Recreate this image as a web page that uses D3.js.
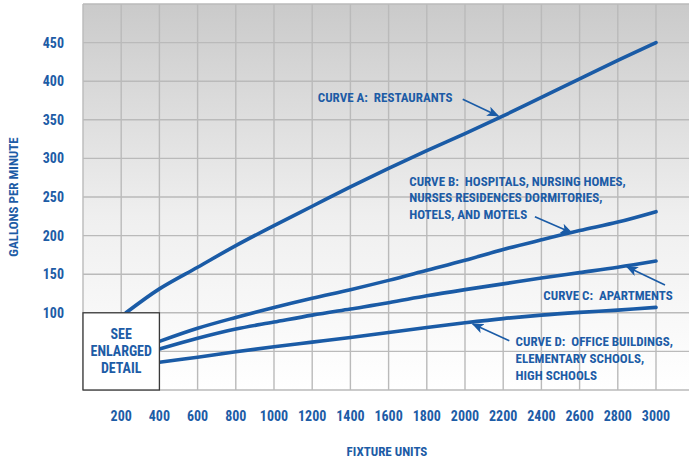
<!DOCTYPE html>
<html>
<head>
<meta charset="utf-8">
<script src="https://cdn.jsdelivr.net/npm/d3@7"></script>
<style>
  html, body { margin: 0; padding: 0; background: #ffffff; }
  svg { display: block; }
  text { font-family: "Liberation Sans Narrow", "Arial Narrow", "Roboto Condensed", "Liberation Sans", sans-serif; font-weight: bold; fill: #1d5ca6; white-space: pre; }
</style>
</head>
<body>
<svg id="chart" width="689" height="460"></svg>
<script>
// ---- data ----
const xTicks = [200, 400, 600, 800, 1000, 1200, 1400, 1600, 1800, 2000, 2200, 2400, 2600, 2800, 3000];
const yTicks = [100, 150, 200, 250, 300, 350, 400, 450];
const gridX = [0, 200, 400, 600, 800, 1000, 1200, 1400, 1600, 1800, 2000, 2200, 2400, 2600, 2800, 3000];
const gridY = [0, 50, 100, 150, 200, 250, 300, 350, 400, 450, 500];

const curveAUnits = [225, 400, 600, 800, 1000, 1200, 1400, 1600, 1800, 2000, 2200, 2400, 2600, 2800, 3000];
const curveA = [100, 131, 159, 187, 213, 238, 263, 287, 310, 332, 355, 379, 403, 427, 450];

const curveUnits = [400, 600, 800, 1000, 1200, 1400, 1600, 1800, 2000, 2200, 2400, 2600, 2800, 3000];
const curveB = [63, 80, 94, 107, 119, 130, 142, 155, 168, 182, 194.5, 206.5, 217.5, 231];
const curveC = [53, 67, 79, 88, 97, 105, 113, 122, 130, 137.5, 145, 152, 159, 167];
const curveD = [36, 42.5, 49.5, 56, 62, 68, 74.5, 81, 87, 92.5, 97, 100.5, 103.5, 107];

const labelA = ["CURVE A:  RESTAURANTS"];
const labelB = ["CURVE B:  HOSPITALS, NURSING HOMES,", "NURSES RESIDENCES DORMITORIES,", "HOTELS, AND MOTELS"];
const labelC = ["CURVE C:  APARTMENTS"];
const labelD = ["CURVE D:  OFFICE BUILDINGS,", "ELEMENTARY SCHOOLS,", "HIGH SCHOOLS"];
const boxLabel = ["SEE", "ENLARGED", "DETAIL"];

// annotation anchors in data units: text start, arrow tail, arrow tip
const annotations = [
  { lines: labelA, tx: 1229, ty: 379.5, ax1: 1988, ay1: 376.5, ax2: 2174, ay2: 355 },
  { lines: labelB, tx: 1708, ty: 270.7, ax1: 2366, ay1: 224.5, ax2: 2559, ay2: 203.7 },
  { lines: labelC, tx: 2410, ty: 123, ax1: 3047, ay1: 136, ax2: 2847, ay2: 159.7 },
  { lines: labelD, tx: 2265, ty: 62.6, ax1: 2232, ay1: 63.9, ax2: 2040, ay2: 85.5 }
];

// ---- layout ----
const W = 689, H = 460;
const x = d3.scaleLinear().domain([0, 3000]).range([83, 656]);
const y = d3.scaleLinear().domain([0, 500]).range([390, 4]);
const plotRight = W;
const blue = "#1a5ba6";
const lineGap = 16.7;

const svg = d3.select("#chart");
const defs = svg.append("defs");
const grad = defs.append("linearGradient").attr("id", "bg").attr("x1", 0).attr("y1", 0).attr("x2", 0).attr("y2", 1);
grad.append("stop").attr("offset", "0%").attr("stop-color", "#cacaca");
grad.append("stop").attr("offset", "55%").attr("stop-color", "#efefef");
grad.append("stop").attr("offset", "100%").attr("stop-color", "#ffffff");

defs.append("marker").attr("id", "arrow")
  .attr("viewBox", "0 0 12 10").attr("refX", 11).attr("refY", 5)
  .attr("markerWidth", 12).attr("markerHeight", 10).attr("markerUnits", "userSpaceOnUse")
  .attr("orient", "auto")
  .append("path").attr("d", "M0,0 L12,5 L0,10 L3,5 Z").attr("fill", blue);

// background
svg.append("rect")
  .attr("x", x(0)).attr("y", y(500))
  .attr("width", plotRight - x(0)).attr("height", y(0) - y(500))
  .attr("fill", "url(#bg)");

// grid
const grid = svg.append("g").attr("stroke", "#bababa").attr("stroke-width", 1.4);
grid.selectAll(".gx").data(gridX).join("line")
  .attr("x1", d => x(d)).attr("x2", d => x(d))
  .attr("y1", y(500)).attr("y2", y(0));
grid.selectAll(".gy").data(gridY).join("line")
  .attr("x1", x(0)).attr("x2", plotRight)
  .attr("y1", d => y(d)).attr("y2", d => y(d));

// curves
const line = d3.line().x(d => x(d[0])).y(d => y(d[1])).curve(d3.curveCatmullRom.alpha(0.5));
const series = [
  d3.zip(curveAUnits, curveA),
  d3.zip(curveUnits, curveB),
  d3.zip(curveUnits, curveC),
  d3.zip(curveUnits, curveD)
];
svg.append("g").selectAll("path").data(series).join("path")
  .attr("d", line)
  .attr("fill", "none")
  .attr("stroke", blue)
  .attr("stroke-width", 3.6)
  .attr("stroke-linecap", "round");

// enlarged detail box
svg.append("rect")
  .attr("x", x(0)).attr("y", y(100))
  .attr("width", x(400) - x(0)).attr("height", y(0) - y(100))
  .attr("fill", "#ffffff").attr("stroke", "#3a3a3a").attr("stroke-width", 1.3);
const boxCx = (x(0) + x(400)) / 2, boxCy = (y(0) + y(100)) / 2;
svg.append("g").selectAll("text").data(boxLabel).join("text")
  .attr("x", boxCx)
  .attr("y", (d, i) => boxCy + (i - 1) * 17)
  .attr("dy", "0.36em")
  .attr("text-anchor", "middle")
  .attr("font-size", 14)
  .text(d => d);

// y tick labels
svg.append("g").selectAll("text").data(yTicks).join("text")
  .attr("x", 64).attr("y", d => y(d)).attr("dy", "0.36em")
  .attr("text-anchor", "end").attr("font-size", 14)
  .text(d => d);

// x tick labels
svg.append("g").selectAll("text").data(xTicks).join("text")
  .attr("x", d => x(d)).attr("y", 416).attr("dy", "0.36em")
  .attr("text-anchor", "middle").attr("font-size", 14)
  .text(d => d);

// axis titles
svg.append("text")
  .attr("x", 387).attr("y", 451).attr("dy", "0.36em")
  .attr("text-anchor", "middle").attr("font-size", 13)
  .text("FIXTURE UNITS");
svg.append("text")
  .attr("transform", `translate(13,${(y(0) + y(500)) / 2}) rotate(-90)`)
  .attr("dy", "0.36em")
  .attr("text-anchor", "middle").attr("font-size", 13)
  .text("GALLONS PER MINUTE");

// annotations
const ann = svg.append("g");
annotations.forEach(a => {
  ann.append("g").selectAll("text").data(a.lines).join("text")
    .attr("x", x(a.tx))
    .attr("y", (d, i) => y(a.ty) + i * lineGap)
    .attr("dy", "0.36em")
    .attr("font-size", 13)
    .text(d => d);
  ann.append("line")
    .attr("x1", x(a.ax1)).attr("y1", y(a.ay1))
    .attr("x2", x(a.ax2)).attr("y2", y(a.ay2))
    .attr("stroke", blue).attr("stroke-width", 1.6)
    .attr("marker-end", "url(#arrow)");
});
</script>
</body>
</html>
